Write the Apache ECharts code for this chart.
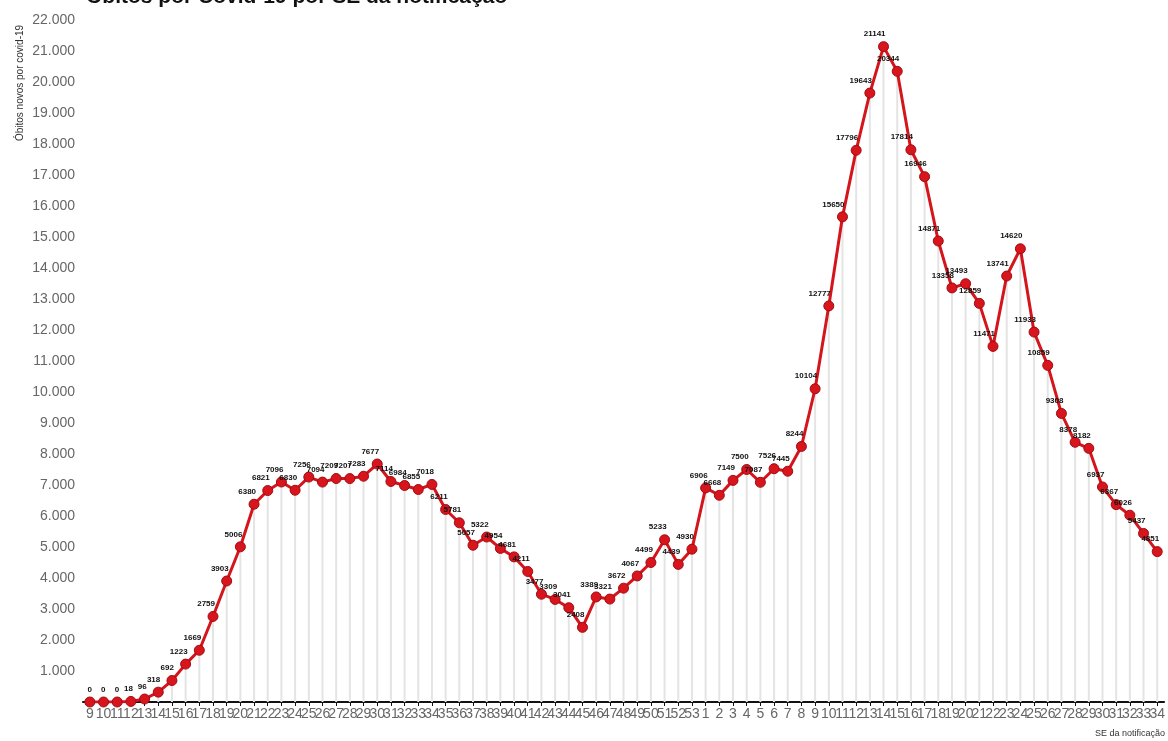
<!DOCTYPE html>
<html>
<head>
<meta charset="utf-8">
<script src="https://cdn.jsdelivr.net/npm/echarts@6/dist/echarts.min.js"></script>
<style>html,body{margin:0;padding:0;background:#fff;}#c{width:1168px;height:741px;}</style>
</head>
<body>
<div id="c"></div>
<script>
const weeks = ['9','10','11','12','13','14','15','16','17','18','19','20','21','22','23','24','25','26','27','28','29','30','31','32','33','34','35','36','37','38','39','40','41','42','43','44','45','46','47','48','49','50','51','52','53',
'1','2','3','4','5','6','7','8','9','10','11','12','13','14','15','16','17','18','19','20','21','22','23','24','25','26','27','28','29','30','31','32','33','34'];
const deaths = [0,0,0,18,96,318,692,1223,1669,2759,3903,5006,6380,6821,7096,
6830,7256,7094,7209,7207,7283,7677,
7114,6984,6855,7018,6211,5781,5057,
5322,4954,4681,4211,3477,3309,3041,2408,
3389,3321,3672,4067,4499,5233,4439,4930,
6906,6668,7149,7500,7087,7526,7445,8244,
10104,12777,15650,17796,19643,21141,20344,17814,16946,14871,
13358,13493,12859,11471,13741,14620,11933,10859,9308,8378,
8182,6937,6367,6026,5437,4851];
const titleText = 'Óbitos por Covid-19 por SE da notificação';
const yName = 'Óbitos novos por covid-19';
const xName = 'SE da notificação';

const chart = echarts.init(document.getElementById('c'));
const narrow = 'Liberation Sans Narrow, Liberation Sans, Arial, sans-serif';
chart.setOption({
  animation: false,
  backgroundColor: '#fff',
  grid: {left: 83, right: 3, top: 20, bottom: 39, containLabel: false},
  graphic: [
    {type: 'text', left: 86, top: -13, style: {text: titleText, font: 'bold 21px Liberation Sans, Arial, sans-serif', fill: '#111'}},
    {type: 'text', x: 20, y: 83, rotation: Math.PI / 2, style: {text: yName, font: '10px ' + narrow, fill: '#333', align: 'center', verticalAlign: 'middle'}},
    {type: 'text', right: 3, top: 729, style: {text: xName, font: '9px ' + narrow, fill: '#333'}}
  ],
  xAxis: {
    type: 'category',
    data: weeks,
    boundaryGap: true,
    axisLine: {lineStyle: {color: '#111', width: 2}},
    axisTick: {show: true, alignWithLabel: true, length: 4, lineStyle: {color: '#111'}},
    axisLabel: {interval: 0, color: '#666', fontSize: 14, fontFamily: narrow, margin: 5},
    splitLine: {show: false}
  },
  yAxis: {
    type: 'value',
    min: 0, max: 22000, interval: 1000,
    axisLine: {show: false},
    axisTick: {show: false},
    splitLine: {show: false},
    axisLabel: {
      color: '#666', fontSize: 14, fontFamily: narrow, margin: 8,
      formatter: v => v === 0 ? '' : (v / 1000).toFixed(0) + '.000'
    }
  },
  series: [
    {
      type: 'bar',
      data: deaths,
      barWidth: 2,
      itemStyle: {color: '#e4e4e4'},
      silent: true,
      z: 1
    },
    {
      type: 'line',
      data: deaths,
      symbol: 'circle',
      symbolSize: 10,
      lineStyle: {color: '#d4161c', width: 3},
      itemStyle: {color: '#d8141c', borderColor: '#a00d12', borderWidth: 1},
      label: {
        show: true,
        position: 'top',
        distance: 3,
        align: 'right',
        offset: [2, 0],
        color: '#111',
        fontSize: 8,
        fontWeight: 'bold',
        fontFamily: 'Liberation Sans, Arial, sans-serif'
      },
      z: 3
    }
  ]
});
</script>
</body>
</html>
